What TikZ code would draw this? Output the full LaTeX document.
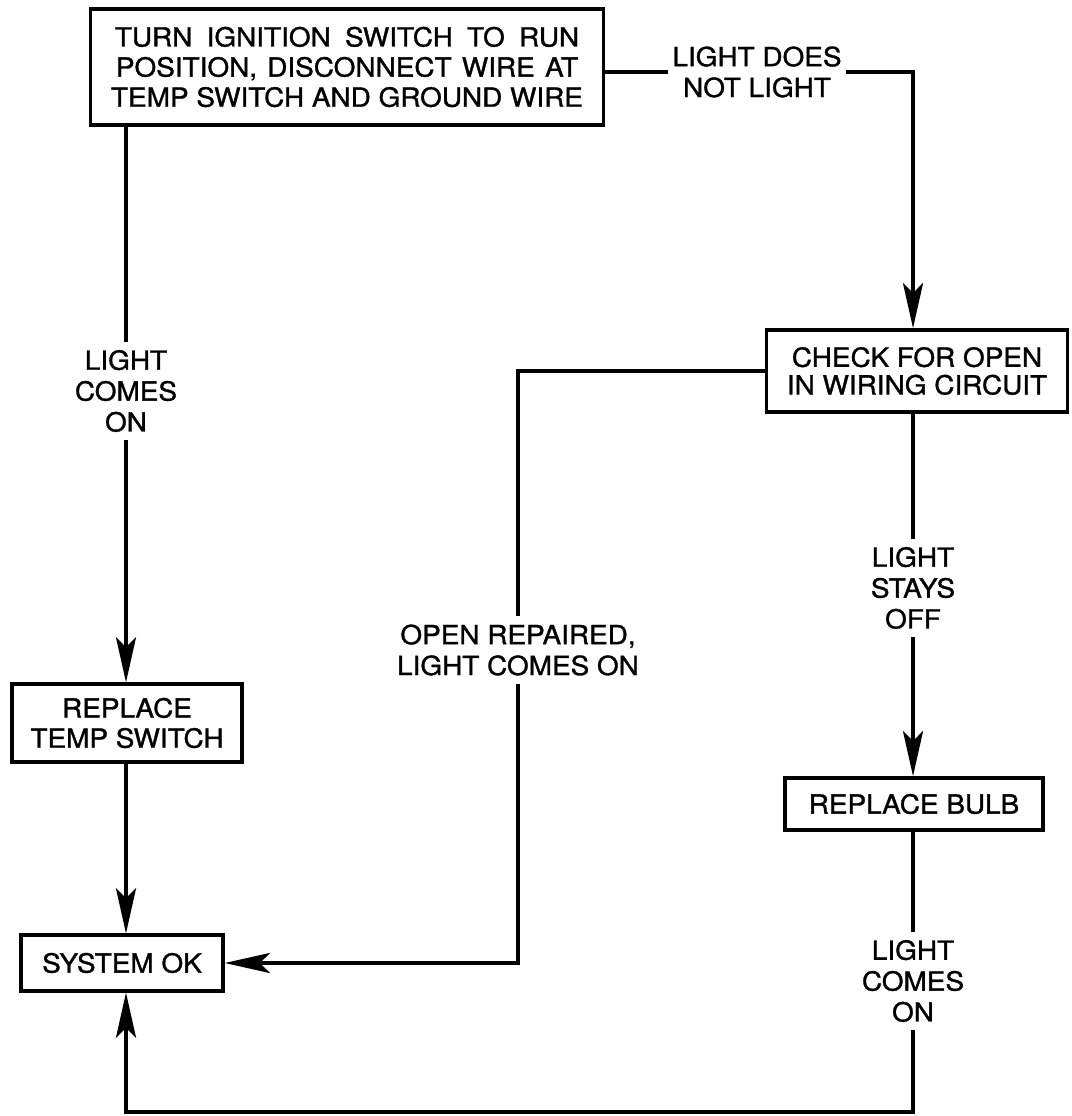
\documentclass[tikz,border=0pt]{standalone}
\usepackage{fontspec}
\setmainfont{TeX Gyre Heros}[FakeStretch=1.06, FakeBold=1.2]
\usetikzlibrary{arrows.meta}
\newcommand\wsp{\hspace{2.6pt} }
\begin{document}
\begin{tikzpicture}[x=0.014cm, y=-0.014cm, line width=1.4pt,
	box/.style = {draw, align=center, inner sep=0pt, font=\fontsize{10.5}{12}\selectfont},
	lbl/.style = {align=center, inner sep=2.5pt, font=\fontsize{10.5}{12.3}\selectfont},
	arr/.style = {-{Stealth[length=18pt, width=8pt, inset=4pt]}}]
	\useasboundingbox (0,0) rectangle (1071,1116);
	\coordinate (lx) at (126,0);
	\coordinate (rx) at (913,0);
	\coordinate (bl) at (126,1112);
	% boxes
	\node [box, minimum width=7.18cm, minimum height=1.62cm] (start) at (347,67) {TURN\wsp IGNITION\wsp SWITCH\wsp TO\wsp RUN\\POSITION,\hspace{1pt} DISCONNECT\hspace{1pt} WIRE\hspace{1pt} AT\\TEMP SWITCH AND GROUND WIRE};
	\node [box, minimum width=4.21cm, minimum height=1.15cm, font=\fontsize{10.5}{11}\selectfont] (check) at (917,371) {CHECK FOR OPEN\\IN WIRING CIRCUIT};
	\node [box, minimum width=3.22cm, minimum height=1.09cm] (tempsw) at (127,723) {REPLACE\\TEMP SWITCH};
	\node [box, minimum width=2.83cm, minimum height=0.78cm] (ok) at (122,963) {SYSTEM OK};
	\node [box, minimum width=3.61cm, minimum height=0.73cm] (bulb) at (914,804) {REPLACE BULB};
	% labels on the lines
	\node [lbl] (lon1) at (126,391) {LIGHT\\COMES\\ON};
	\node [lbl, inner xsep=1pt] (nolight) at (757,72) {LIGHT DOES\\NOT LIGHT};
	\node [lbl] (stays) at (913,588) {LIGHT\\STAYS\\OFF};
	\node [lbl] (repaired) at (518,650) {OPEN REPAIRED,\\LIGHT COMES ON};
	\node [lbl] (lon2) at (913,981) {LIGHT\\COMES\\ON};
	% left branch
	\draw (lx |- start.south) -- (lon1.north);
	\draw [arr] (lon1.south) -- (lx |- tempsw.north);
	\draw [arr] (lx |- tempsw.south) -- (lx |- ok.north);
	% right branch
	\draw (start.east |- nolight) -- (nolight.west);
	\draw [arr] (nolight.east) -| (rx |- check.north);
	\draw (rx |- check.south) -- (stays.north);
	\draw [arr] (stays.south) -- (rx |- bulb.north);
	\draw (rx |- bulb.south) -- (lon2.north);
	\draw [arr] (lon2.south) |- (bl) -- (bl |- ok.south);
	% repaired
	\draw (check.west) -| (repaired.north);
	\draw [arr] (repaired.south) |- (ok.east);
\end{tikzpicture}
\end{document}
